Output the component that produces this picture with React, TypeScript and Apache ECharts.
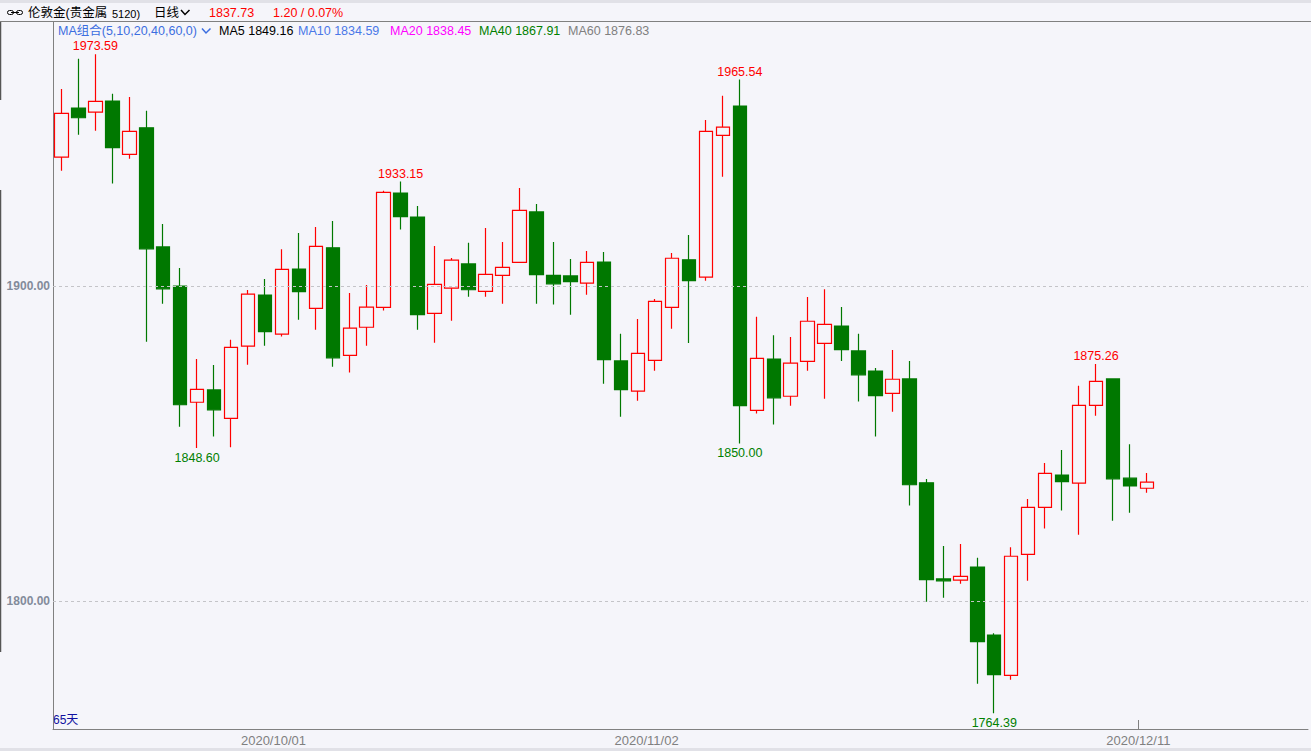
import React, { useEffect, useRef } from "react";
import * as echarts from "echarts";

// ---- data ----
const dates = [
  "2020/09/14","2020/09/15","2020/09/16","2020/09/17","2020/09/18",
  "2020/09/21","2020/09/22","2020/09/23","2020/09/24","2020/09/25",
  "2020/09/28","2020/09/29","2020/09/30","2020/10/01","2020/10/02",
  "2020/10/05","2020/10/06","2020/10/07","2020/10/08","2020/10/09",
  "2020/10/12","2020/10/13","2020/10/14","2020/10/15","2020/10/16",
  "2020/10/19","2020/10/20","2020/10/21","2020/10/22","2020/10/23",
  "2020/10/26","2020/10/27","2020/10/28","2020/10/29","2020/10/30",
  "2020/11/02","2020/11/03","2020/11/04","2020/11/05","2020/11/06",
  "2020/11/09","2020/11/10","2020/11/11","2020/11/12","2020/11/13",
  "2020/11/16","2020/11/17","2020/11/18","2020/11/19","2020/11/20",
  "2020/11/23","2020/11/24","2020/11/25","2020/11/26","2020/11/27",
  "2020/11/30","2020/12/01","2020/12/02","2020/12/03","2020/12/04",
  "2020/12/07","2020/12/08","2020/12/09","2020/12/10","2020/12/11",
];
const opens = [
  1940.9,1956.5,1955.2,1958.7,1941.8,1950.2,1912.4,1900.0,1863.1,1867.0,
  1858.0,1880.9,1897.1,1884.7,1905.4,1892.9,1912.1,1878.0,1886.9,1893.2,
  1929.5,1921.9,1891.3,1899.3,1907.0,1898.3,1903.4,1907.5,1923.5,1903.4,
  1903.2,1900.9,1907.6,1876.2,1866.6,1876.4,1893.2,1908.3,1902.8,1947.8,
  1957.1,1860.5,1876.8,1865.0,1876.1,1881.8,1887.3,1879.4,1873.0,1865.9,
  1870.5,1837.5,1807.0,1806.6,1810.8,1789.2,1776.4,1814.8,1829.7,1840.0,
  1837.4,1862.1,1870.5,1839.0,1835.8,
];
const closes = [
  1954.8,1953.4,1958.6,1943.9,1949.1,1911.8,1899.1,1862.3,1867.2,1860.7,
  1880.5,1897.4,1885.5,1905.3,1898.2,1912.6,1877.2,1886.6,1893.3,1929.7,
  1922.0,1890.9,1900.5,1908.2,1898.8,1903.7,1905.9,1924.0,1903.6,1900.7,
  1901.4,1907.5,1876.6,1867.1,1878.6,1895.1,1908.8,1901.7,1949.1,1950.4,
  1862.0,1877.0,1864.5,1875.5,1888.8,1887.8,1879.8,1871.8,1865.2,1870.4,
  1836.9,1806.8,1806.4,1807.8,1787.1,1776.6,1814.2,1829.7,1840.5,1837.9,
  1862.1,1869.7,1838.8,1836.53,1837.73,
];
const lows = [
  1936.6,1948.0,1949.3,1932.5,1940.4,1882.3,1894.4,1855.3,1848.6,1852.2,
  1848.8,1875.0,1881.0,1884.0,1889.3,1886.1,1874.4,1872.5,1881.0,1892.2,
  1917.9,1886.1,1882.0,1889.0,1896.6,1896.6,1894.4,1907.5,1894.4,1894.1,
  1890.9,1897.2,1869.0,1858.5,1863.6,1873.1,1886.4,1881.9,1901.7,1934.7,
  1850.0,1859.5,1856.0,1862.0,1873.1,1864.2,1876.2,1863.3,1852.2,1860.1,
  1830.3,1799.8,1801.0,1805.5,1773.7,1764.39,1775.0,1806.4,1823.0,1828.7,
  1821.0,1858.8,1825.5,1828.0,1834.4,
];
const highs = [
  1962.5,1972.1,1973.59,1961.0,1960.0,1955.6,1919.7,1905.7,1876.8,1874.9,
  1882.9,1898.7,1902.2,1911.7,1916.8,1918.7,1920.6,1897.8,1900.3,1930.2,
  1933.15,1925.4,1912.7,1908.9,1913.7,1918.4,1914.0,1931.1,1926.0,1914.0,
  1908.6,1911.1,1910.8,1884.8,1889.5,1895.9,1910.5,1916.2,1952.7,1960.4,
  1965.54,1890.2,1884.4,1883.8,1896.5,1899.0,1893.3,1884.8,1874.0,1879.7,
  1876.2,1838.7,1817.5,1818.1,1813.7,1789.8,1817.1,1832.4,1843.8,1847.9,
  1868.3,1875.26,1870.7,1849.8,1840.6,
];
const emptySlots = 9;
const peakHighIdx = [2, 20, 40, 61];
const peakLowIdx = [8, 40, 55];
const xTickLabels = ["2020/10/01", "2020/11/02", "2020/12/11"];
const yTickValues = [1800, 1900];
const maNames = ["MA5", "MA10", "MA20", "MA40", "MA60"];
const maValues = [1849.16, 1834.59, 1838.45, 1867.91, 1876.83];
const title = "伦敦金(贵金属";
const code = "5120)";
const period = "日线";
const maGroup = "MA组合(5,10,20,40,60,0)";
const dayCountLabel = "65天";

// ---- styles ----
const BG = "#f5f5fa";
const UP = "#ff0000";
const DOWN = "#007800";
const FONT = "'Liberation Sans', 'Noto Sans CJK SC', sans-serif";
const maColors = ["#000000", "#4a78e8", "#ff00ff", "#008000", "#808080"];
const maX = [219, 298, 390, 479, 568];

function txt(x: number, y: number, text: string, fill: string, size = 12.5, extra: any = {}) {
  return {
    type: "text",
    x,
    y,
    silent: true,
    style: { text, fill, fontSize: size, fontFamily: FONT, verticalAlign: "middle", align: "left", ...extra },
  };
}

function buildOption() {
  const n = dates.length;
  const cats = dates.concat(Array.from({ length: emptySlots }, (_, i) => `pad${i}`));
  const candleData: any[] = dates.map((_, i) => [opens[i], closes[i], lows[i], highs[i]]);
  for (let i = 0; i < emptySlots; i++) candleData.push("-");
  // boundary labels (one more than slot count)
  const boundaryLabels = Array.from({ length: cats.length + 1 }, (_, k) => {
    const d = k < n ? dates[k] : "";
    return xTickLabels.includes(d) ? d : `b${k}`;
  });
  const lastIdx = n - 1;
  const last = closes[lastIdx];
  const chg = last - closes[lastIdx - 1];
  const pct = (chg / closes[lastIdx - 1]) * 100;

  const markData: any[] = [];
  peakHighIdx.forEach((i) =>
    markData.push({
      coord: [dates[i], highs[i]],
      value: highs[i].toFixed(2),
      label: { position: "top", distance: 1, color: UP },
    })
  );
  peakLowIdx.forEach((i) =>
    markData.push({
      coord: [dates[i], lows[i]],
      value: lows[i].toFixed(2),
      label: { position: "bottom", distance: 3, color: "#008000" },
    })
  );

  const graphics: any[] = [
    { type: "rect", shape: { x: 0, y: 0, width: 1311, height: 3 }, style: { fill: "#e1e1e7" }, silent: true },
    { type: "rect", shape: { x: 0, y: 748, width: 1311, height: 3 }, style: { fill: "#e1e1e7" }, silent: true },
    { type: "line", shape: { x1: 0, y1: 21.5, x2: 1311, y2: 21.5 }, style: { stroke: "#808080", lineWidth: 1 }, silent: true },
    { type: "line", shape: { x1: 0.5, y1: 22, x2: 0.5, y2: 100 }, style: { stroke: "#555555", lineWidth: 1.5 }, silent: true },
    { type: "line", shape: { x1: 0.5, y1: 190, x2: 0.5, y2: 652 }, style: { stroke: "#555555", lineWidth: 1.5 }, silent: true },
    // link icon
    { type: "rect", shape: { x: 7.5, y: 10.5, width: 6, height: 4, r: 2 }, style: { fill: "none", stroke: "#000", lineWidth: 1 }, silent: true },
    { type: "rect", shape: { x: 16.5, y: 10.5, width: 6, height: 4, r: 2 }, style: { fill: "none", stroke: "#000", lineWidth: 1 }, silent: true },
    { type: "line", shape: { x1: 11, y1: 12.5, x2: 19, y2: 12.5 }, style: { stroke: "#000", lineWidth: 1 }, silent: true },
    txt(28, 13, title, "#000000", 12.5),
    txt(112, 13.5, code, "#000000", 11),
    txt(154, 13, period, "#000000", 12.5),
    { type: "polyline", shape: { points: [[181, 10], [185, 14.5], [189.5, 10]] }, style: { fill: "none", stroke: "#000", lineWidth: 1.5 }, silent: true },
    txt(209, 13, last.toFixed(2), UP, 12.5),
    txt(273, 13, `${chg.toFixed(2)} / ${pct.toFixed(2)}%`, UP, 12.5),
    txt(58, 31, maGroup, "#3c6ee0", 12.5),
    { type: "polyline", shape: { points: [[202, 28.5], [206, 33], [210.5, 28.5]] }, style: { fill: "none", stroke: "#3c6ee0", lineWidth: 1.5 }, silent: true },
    ...maNames.map((m, i) => txt(maX[i], 31, `${m} ${maValues[i].toFixed(2)}`, maColors[i], 12.5)),
    txt(53, 720, dayCountLabel, "#1010a0", 12),
  ];

  return {
    animation: false,
    backgroundColor: BG,
    grid: { left: 53, right: 0, top: 22, bottom: 22 },
    xAxis: [
      {
        type: "category",
        data: cats,
        boundaryGap: true,
        axisLine: { show: true, lineStyle: { color: "#808080", width: 1 } },
        axisTick: { show: false },
        axisLabel: { show: false },
        splitLine: { show: false },
      },
      {
        type: "category",
        position: "bottom",
        data: boundaryLabels,
        boundaryGap: false,
        axisLine: { show: false },
        axisTick: {
          show: true,
          inside: true,
          length: 9,
          interval: (idx: number) => idx === lastIdx,
          lineStyle: { color: "#808080" },
        },
        axisLabel: {
          interval: 0,
          margin: 5,
          color: "#808080",
          fontSize: 13,
          fontFamily: FONT,
          formatter: (v: string) => (xTickLabels.includes(v) ? v : ""),
        },
        splitLine: { show: false },
      },
    ],
    yAxis: {
      type: "value",
      min: 1759.37,
      max: 1983.8,
      position: "left",
      axisLine: { show: true, lineStyle: { color: "#808080", width: 1 } },
      axisTick: { show: false },
      splitLine: { show: false },
      axisLabel: {
        customValues: yTickValues,
        margin: 3,
        color: "#838b9a",
        fontWeight: "bold",
        fontSize: 12,
        fontFamily: FONT,
        formatter: (v: number) => Number(v).toFixed(2),
      },
    },
    graphic: graphics,
    series: [
      {
        type: "candlestick",
        xAxisIndex: 0,
        yAxisIndex: 0,
        data: candleData,
        barWidth: 14,
        itemStyle: {
          color: BG,
          color0: DOWN,
          borderColor: UP,
          borderColor0: DOWN,
          borderWidth: 1.2,
        },
        markLine: {
          silent: true,
          symbol: ["none", "none"],
          label: { show: false },
          lineStyle: { color: "#c4c4c8", type: [3, 3], width: 1 },
          data: yTickValues.map((v) => ({ yAxis: v })),
        },
        markPoint: {
          silent: true,
          symbol: "circle",
          symbolSize: 1,
          itemStyle: { color: "transparent" },
          label: { show: true, fontSize: 12.5, fontFamily: FONT, formatter: (p: any) => p.value },
          data: markData,
        },
      },
    ],
  };
}

export default function App() {
  const ref = useRef<HTMLDivElement>(null);
  useEffect(() => {
    document.body.style.margin = "0";
    const chart = echarts.init(ref.current!, null, { renderer: "svg" });
    chart.setOption(buildOption() as any);
    return () => chart.dispose();
  }, []);
  return (
    <div
      ref={ref}
      style={{ position: "fixed", left: 0, top: 0, width: 1311, height: 751, background: BG }}
    />
  );
}
